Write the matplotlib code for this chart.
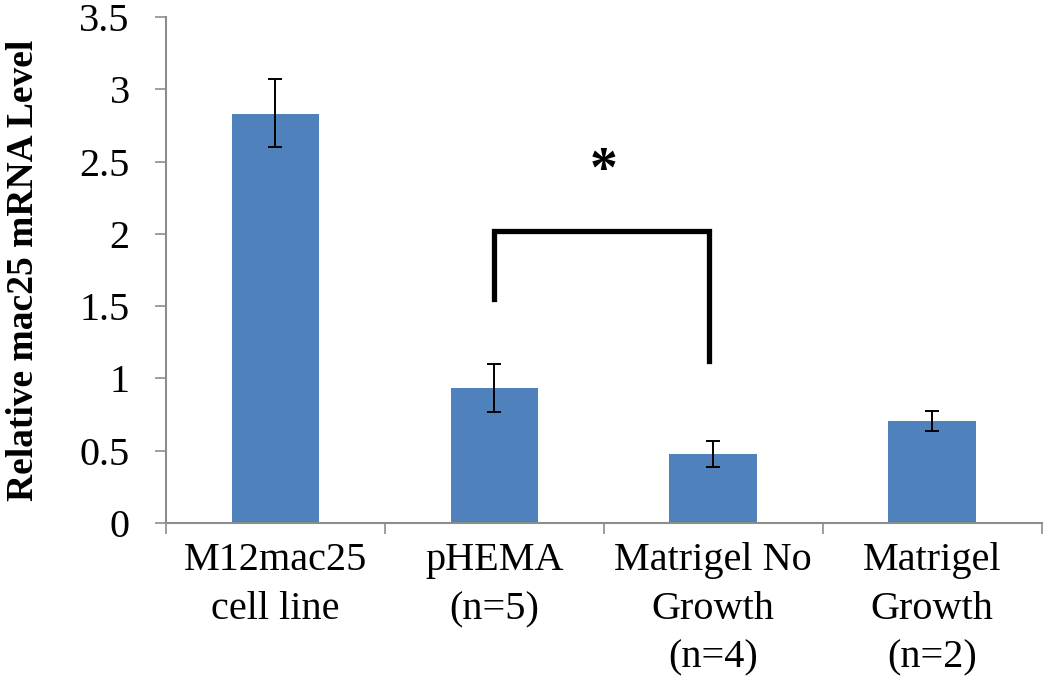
import matplotlib
matplotlib.use("Agg")
import matplotlib.pyplot as plt
import numpy as np

categories = ["M12mac25\ncell line", "pHEMA\n(n=5)", "Matrigel No\nGrowth\n(n=4)", "Matrigel\nGrowth\n(n=2)"]
values = [2.83, 0.935, 0.478, 0.705]
err_upper = [3.07, 1.10, 0.568, 0.777]
err_lower = [2.60, 0.766, 0.387, 0.636]
y_ticks = [0, 0.5, 1, 1.5, 2, 2.5, 3, 3.5]
y_tick_labels = ["0", "0.5", "1", "1.5", "2", "2.5", "3", "3.5"]

# significance bracket between pHEMA and Matrigel No Growth
bracket_pair = (1, 2)
bracket_top = 2.02
bracket_left_bottom = 1.55
bracket_right_bottom = 1.12
star_y = 2.43

plt.rcParams['font.family'] = ['Liberation Serif', 'DejaVu Serif']

fig = plt.figure(figsize=(10.5, 6.87), dpi=100)
ax = fig.add_axes([0.158, 0.239, 0.834, 0.736])

x = np.arange(len(categories))
vals = np.array(values)
yerr = np.array([vals - np.array(err_lower), np.array(err_upper) - vals])
ax.bar(x, vals, width=0.40, color="#4F81BD", zorder=2)
ax.errorbar(x, vals, yerr=yerr, fmt="none", ecolor="black", elinewidth=1.4,
            capsize=5, capthick=1.4, zorder=3)

# bracket
x1, x2 = bracket_pair
ax.plot([x1, x1, x2 - 0.02, x2 - 0.02],
        [bracket_left_bottom, bracket_top, bracket_top, bracket_right_bottom],
        color="black", lw=3.8, solid_joinstyle="miter", zorder=4)
ax.text((x1 + x2) / 2, star_y, "*", ha="center", va="center", fontsize=40,
        fontweight="bold", color="black")

ax.set_xlim(-0.5, len(categories) - 0.5)
ax.set_ylim(0, 3.5)
ax.set_yticks(y_ticks)
ax.set_yticklabels(y_tick_labels, fontsize=29)
ax.set_xticks(x)
ax.set_xticklabels(categories, fontsize=29, linespacing=1.42, va="top")
ax.set_xticks(np.arange(-0.5, len(categories), 1.0), minor=True)
ax.tick_params(axis="x", which="major", length=0, pad=14)
ax.tick_params(axis="x", which="minor", length=8, color="#8c8c8c", width=1.2)
ax.tick_params(axis="y", length=8, color="#8c8c8c", width=1.2, pad=18)

for s in ["top", "right"]:
    ax.spines[s].set_visible(False)
for s in ["left", "bottom"]:
    ax.spines[s].set_color("#8c8c8c")
    ax.spines[s].set_linewidth(1.5)

ax.set_ylabel("Relative mac25 mRNA Level", fontsize=27, fontweight="bold")
ax.yaxis.set_label_coords(-0.143, 0.5)

fig.savefig("out.png", dpi=100)
